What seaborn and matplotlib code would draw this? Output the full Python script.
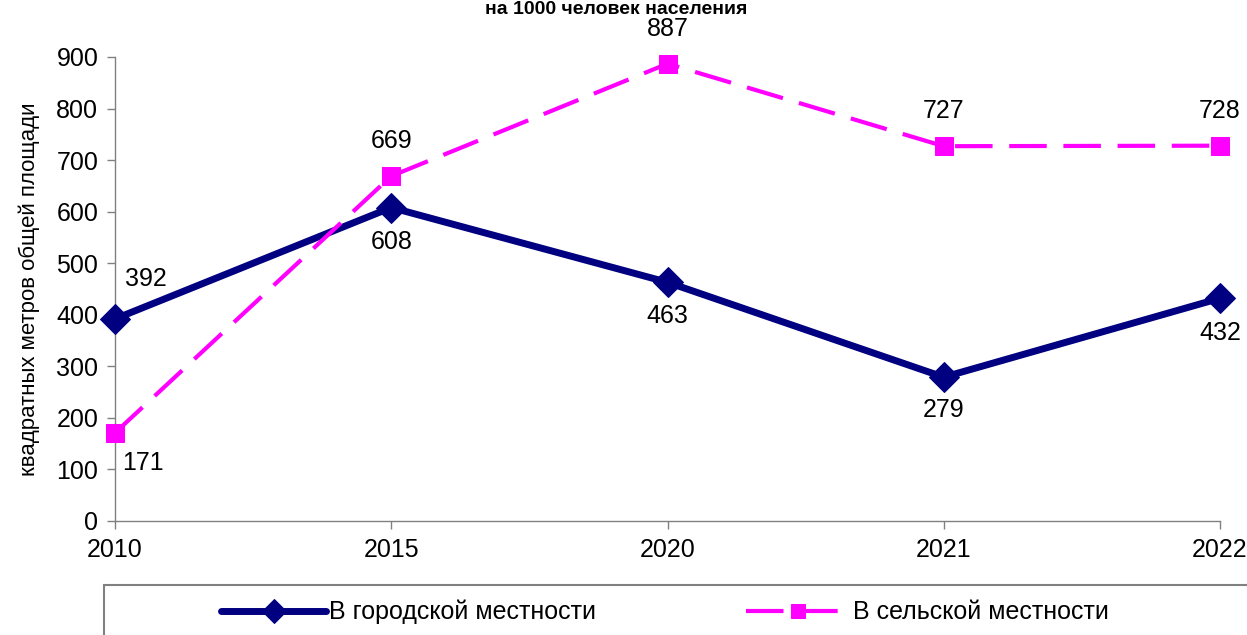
import pandas as pd
import seaborn as sns
import matplotlib.pyplot as plt
from matplotlib.patches import Rectangle

# Данные
years = ['2010', '2015', '2020', '2021', '2022']
urban = [392, 608, 463, 279, 432]
rural = [171, 669, 887, 727, 728]
urban_name = 'В городской местности'
rural_name = 'В сельской местности'

sns.set_theme(style='white')
plt.rcParams['font.family'] = ['Liberation Sans Narrow', 'Liberation Sans', 'DejaVu Sans']
plt.rcParams['text.color'] = 'black'
plt.rcParams['axes.labelcolor'] = 'black'

fig = plt.figure(figsize=(12.47, 6.35), dpi=100)
ax = fig.add_axes([115 / 1247, 1 - 521 / 635, (1220 - 115) / 1247, (521 - 57) / 635])

df_u = pd.DataFrame({'Год': years, 'Значение': urban})
df_r = pd.DataFrame({'Год': years, 'Значение': rural})

sns.lineplot(data=df_u, x='Год', y='Значение', ax=ax, color='#000080', linewidth=5,
             marker='D', markersize=15, markeredgecolor='#000080', clip_on=False,
             label=urban_name, zorder=3)
sns.lineplot(data=df_r, x='Год', y='Значение', ax=ax, color='#FF00FF', linewidth=3,
             marker='s', markersize=13, markeredgecolor='#FF00FF', clip_on=False,
             label=rural_name, zorder=4)
ax.lines[1].set_dashes((9, 4))

ax.set_xlim(0, 4)
ax.set_ylim(0, 900)
ax.set_yticks(range(0, 901, 100))
ax.set_xlabel('')
ax.set_ylabel('квадратных метров общей площади', fontsize=16, labelpad=12)

for side in ['top', 'right']:
    ax.spines[side].set_visible(False)
for side in ['left', 'bottom']:
    ax.spines[side].set_color('#808080')
    ax.spines[side].set_linewidth(1)
ax.tick_params(axis='both', which='major', direction='out', length=6, width=1,
               color='#808080', labelsize=18, labelcolor='black', pad=6)
ax.tick_params(axis='x', bottom=True, length=6)
ax.tick_params(axis='y', left=True)

# Подписи значений
u_offsets = [(22, 29), (0, -25), (0, -24), (0, -24), (0, -25)]
r_offsets = [(20, -22), (0, 25), (0, 25), (0, 25), (0, 25)]
for i, (v, off) in enumerate(zip(urban, u_offsets)):
    ax.annotate(str(v), (i, v), xytext=off, textcoords='offset points',
                ha='center', va='center', fontsize=18, color='black')
for i, (v, off) in enumerate(zip(rural, r_offsets)):
    ax.annotate(str(v), (i, v), xytext=off, textcoords='offset points',
                ha='center', va='center', fontsize=18, color='black')

# Заголовок (в оригинале обрезан сверху)
fig.text(616 / 1247, 0.999, 'на 1000 человек населения', ha='center',
         va='top', fontsize=14, fontweight='bold')

# Рамка легенды
fig.patches.append(Rectangle((104 / 1247, -0.05), 1.2, (1 - 585 / 635) + 0.05,
                             transform=fig.transFigure, fill=False,
                             edgecolor='#808080', linewidth=1.5))
handles, labels = ax.get_legend_handles_labels()
ax.get_legend().remove()
fig.legend(handles, labels, loc='center', bbox_to_anchor=(665 / 1247, 1 - 612 / 635),
           ncol=2, frameon=False, fontsize=18, handlelength=4.2, columnspacing=6,
           handletextpad=0.1, markerscale=0.8)

fig.savefig('out.png', dpi=100)
